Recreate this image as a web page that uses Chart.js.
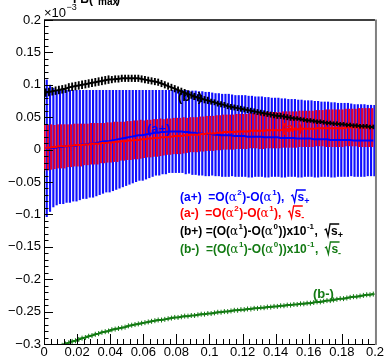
<!DOCTYPE html>
<html>
<head>
<meta charset="utf-8">
<script src="https://cdn.jsdelivr.net/npm/chart.js@4.4.1/dist/chart.umd.min.js"></script>
<style>
  html, body { margin: 0; padding: 0; background: #fff; }
  #c { display: block; }
</style>
</head>
<body>
<canvas id="c" width="385" height="358"></canvas>
<script>
// values in units of 1e-3, one per bin (100 bins from 0 to 0.2)
var aPlus = [
  0.002,0.002,0.003,0.003,0.004, 0.004,0.005,0.005,0.006,0.006,
  0.007,0.008,0.008,0.009,0.009, 0.010,0.011,0.012,0.013,0.013,
  0.014,0.015,0.016,0.017,0.018, 0.019,0.020,0.021,0.022,0.022,
  0.023,0.024,0.025,0.026,0.026, 0.027,0.027,0.028,0.028,0.028,
  0.028,0.028,0.027,0.027,0.026, 0.026,0.025,0.025,0.024,0.024,
  0.024,0.023,0.023,0.022,0.022, 0.022,0.022,0.021,0.021,0.021,
  0.021,0.020,0.020,0.020,0.020, 0.020,0.019,0.019,0.019,0.019,
  0.019,0.018,0.018,0.018,0.018, 0.018,0.017,0.017,0.017,0.017,
  0.017,0.016,0.016,0.016,0.016, 0.016,0.015,0.015,0.015,0.015,
  0.015,0.015,0.015,0.014,0.014, 0.014,0.014,0.014,0.014,0.014
];
var aPlusErr = [
  0.106,0.098,0.092,0.089,0.088, 0.088,0.087,0.087,0.086,0.086,
  0.085,0.084,0.084,0.083,0.083, 0.082,0.081,0.080,0.079,0.079,
  0.078,0.077,0.076,0.075,0.074, 0.073,0.072,0.071,0.070,0.070,
  0.069,0.068,0.067,0.066,0.066, 0.065,0.065,0.064,0.064,0.064,
  0.064,0.064,0.065,0.064,0.065, 0.065,0.065,0.065,0.065,0.065,
  0.064,0.064,0.064,0.064,0.064, 0.064,0.063,0.063,0.063,0.063,
  0.063,0.063,0.063,0.062,0.062, 0.062,0.062,0.062,0.061,0.061,
  0.061,0.061,0.061,0.060,0.060, 0.060,0.060,0.060,0.059,0.059,
  0.059,0.059,0.059,0.058,0.058, 0.058,0.058,0.058,0.057,0.057,
  0.057,0.057,0.056,0.056,0.056, 0.056,0.056,0.055,0.055,0.055
];
var aMinus = [
  0.003,0.003,0.004,0.004,0.005, 0.005,0.005,0.006,0.006,0.007,
  0.007,0.007,0.008,0.008,0.009, 0.009,0.009,0.010,0.010,0.011,
  0.011,0.012,0.012,0.013,0.013, 0.014,0.014,0.015,0.015,0.016,
  0.016,0.017,0.017,0.018,0.018, 0.019,0.019,0.020,0.020,0.021,
  0.021,0.021,0.022,0.022,0.023, 0.023,0.023,0.024,0.024,0.025,
  0.025,0.025,0.026,0.026,0.027, 0.027,0.027,0.027,0.028,0.028,
  0.028,0.028,0.029,0.029,0.029, 0.029,0.029,0.030,0.030,0.030,
  0.030,0.030,0.031,0.031,0.031, 0.031,0.031,0.032,0.032,0.032,
  0.032,0.032,0.033,0.033,0.033, 0.033,0.033,0.033,0.033,0.033,
  0.033,0.034,0.034,0.034,0.034, 0.034,0.034,0.034,0.034,0.034
];
var aMinusErr = [
  0.035,0.035,0.035,0.034,0.034, 0.034,0.034,0.033,0.033,0.033,
  0.033,0.033,0.032,0.032,0.032, 0.032,0.032,0.031,0.031,0.031,
  0.031,0.031,0.031,0.030,0.030, 0.030,0.030,0.030,0.030,0.030,
  0.029,0.029,0.029,0.029,0.029, 0.029,0.028,0.028,0.028,0.028,
  0.028,0.028,0.028,0.027,0.027, 0.027,0.027,0.027,0.027,0.027,
  0.027,0.027,0.027,0.027,0.027, 0.027,0.027,0.027,0.027,0.027,
  0.027,0.027,0.027,0.027,0.027, 0.028,0.028,0.028,0.028,0.028,
  0.028,0.028,0.028,0.028,0.028, 0.028,0.028,0.028,0.028,0.028,
  0.028,0.028,0.028,0.028,0.028, 0.029,0.029,0.029,0.029,0.029,
  0.029,0.029,0.029,0.029,0.029, 0.030,0.030,0.030,0.030,0.030
];
var bPlus = [
  0.088,0.089,0.090,0.091,0.092, 0.093,0.094,0.096,0.097,0.098,
  0.099,0.100,0.101,0.102,0.103, 0.104,0.105,0.106,0.107,0.108,
  0.108,0.109,0.109,0.110,0.110, 0.110,0.110,0.110,0.110,0.109,
  0.108,0.107,0.106,0.105,0.104, 0.102,0.100,0.098,0.096,0.094,
  0.092,0.090,0.088,0.086,0.084, 0.082,0.080,0.079,0.077,0.076,
  0.074,0.073,0.071,0.070,0.069, 0.067,0.066,0.065,0.064,0.063,
  0.062,0.061,0.060,0.059,0.058, 0.057,0.056,0.055,0.054,0.053,
  0.052,0.052,0.051,0.050,0.049, 0.048,0.048,0.047,0.046,0.045,
  0.045,0.044,0.043,0.043,0.042, 0.041,0.041,0.040,0.040,0.039,
  0.039,0.038,0.038,0.037,0.037, 0.036,0.036,0.036,0.035,0.035
];
var bPlusErr = [
  0.006,0.006,0.006,0.006,0.006, 0.006,0.006,0.006,0.006,0.006,
  0.006,0.006,0.006,0.006,0.006, 0.006,0.006,0.006,0.006,0.006,
  0.005,0.005,0.005,0.005,0.005, 0.005,0.005,0.005,0.005,0.005,
  0.005,0.005,0.005,0.005,0.005, 0.005,0.005,0.005,0.005,0.005,
  0.005,0.005,0.005,0.005,0.005, 0.005,0.005,0.005,0.005,0.005,
  0.004,0.004,0.004,0.004,0.004, 0.004,0.004,0.004,0.004,0.004,
  0.004,0.004,0.004,0.004,0.004, 0.004,0.004,0.004,0.004,0.004,
  0.004,0.004,0.004,0.004,0.004, 0.003,0.003,0.003,0.003,0.003,
  0.003,0.003,0.003,0.003,0.003, 0.003,0.003,0.003,0.003,0.003,
  0.003,0.003,0.003,0.003,0.003, 0.003,0.003,0.003,0.003,0.003
];
var bMinus = [
  -0.314,-0.311,-0.309,-0.306,-0.304, -0.302,-0.300,-0.298,-0.296,-0.295,
  -0.293,-0.291,-0.290,-0.288,-0.287, -0.285,-0.284,-0.282,-0.281,-0.280,
  -0.278,-0.277,-0.276,-0.275,-0.274, -0.272,-0.271,-0.270,-0.269,-0.268,
  -0.267,-0.266,-0.265,-0.264,-0.263, -0.263,-0.262,-0.261,-0.260,-0.259,
  -0.259,-0.258,-0.257,-0.257,-0.256, -0.256,-0.255,-0.254,-0.254,-0.253,
  -0.253,-0.252,-0.251,-0.251,-0.250, -0.250,-0.249,-0.248,-0.248,-0.247,
  -0.247,-0.246,-0.246,-0.245,-0.245, -0.244,-0.244,-0.243,-0.243,-0.242,
  -0.242,-0.241,-0.241,-0.240,-0.240, -0.239,-0.239,-0.238,-0.238,-0.237,
  -0.237,-0.236,-0.235,-0.235,-0.234, -0.233,-0.233,-0.232,-0.231,-0.230,
  -0.230,-0.229,-0.228,-0.227,-0.227, -0.226,-0.225,-0.224,-0.224,-0.223
];
var xTicks = [0, 0.02, 0.04, 0.06, 0.08, 0.1, 0.12, 0.14, 0.16, 0.18, 0.2];
var yTicks = [-0.3, -0.25, -0.2, -0.15, -0.1, -0.05, 0, 0.05, 0.1, 0.15, 0.2];

var binWidth = 0.002;
var xBins = aPlus.map(function(_, i) { return binWidth * (i + 0.5); });

function band(c, e) {
    return c.map(function(v, i) { return { x: xBins[i], y: [v - e[i], v + e[i]] }; });
}
function pts(c) {
    return c.map(function(v, i) { return { x: xBins[i], y: v }; });
}

var F = '"Liberation Sans", Arial, sans-serif';
var BLUE = '#0000ff', RED = '#ff0000', GREEN = '#137a13';

// draw a row of text pieces: [text, kind]; n = normal, a = greek, s = superscript, r = sqrt(s) with sub sign
function richRow(ctx, x, y, color, parts) {
    ctx.fillStyle = color;
    ctx.strokeStyle = color;
    ctx.textBaseline = 'alphabetic';
    ctx.textAlign = 'left';
    parts.forEach(function(p) {
        var t = p[0], k = p[1];
        if (k === 'n') {
            ctx.font = 'bold 12px ' + F;
            ctx.fillText(t, x, y); x += ctx.measureText(t).width;
        } else if (k === 'a') {
            ctx.font = '12px "DejaVu Serif", serif';
            ctx.fillText(t, x, y); x += ctx.measureText(t).width;
        } else if (k === 's') {
            ctx.font = 'bold 8px ' + F;
            ctx.fillText(t, x + 0.5, y - 6); x += ctx.measureText(t).width + 1;
        } else if (k === 'r') {
            ctx.font = 'bold 12px ' + F;
            var w = ctx.measureText('s').width;
            ctx.lineWidth = 1.3;
            ctx.beginPath();
            ctx.moveTo(x, y - 5);
            ctx.lineTo(x + 1.5, y - 6);
            ctx.lineTo(x + 3.5, y + 1);
            ctx.lineTo(x + 5.5, y - 11);
            ctx.lineTo(x + 7 + w + 1, y - 11);
            ctx.stroke();
            ctx.fillText('s', x + 6.5, y); x += 6.5 + w;
            ctx.font = 'bold 9px ' + F;
            ctx.fillText(t, x, y + 3);
        }
    });
}

var rootFrame = {
    id: 'rootFrame',
    afterDraw: function(chart) {
        var ctx = chart.ctx, a = chart.chartArea, xs = chart.scales.x, ys = chart.scales.y;
        ctx.save();
        ctx.strokeStyle = '#000';
        ctx.lineWidth = 1;
        // inward y ticks, minor every 0.01
        for (var k = -30; k <= 20; k++) {
            var py = Math.round(ys.getPixelForValue(k / 100)) + 0.5;
            var len = (k % 5 === 0) ? 9 : 4.5;
            ctx.beginPath(); ctx.moveTo(a.left, py); ctx.lineTo(a.left + len, py); ctx.stroke();
        }
        // inward x ticks, minor every 0.004
        for (var j = 0; j <= 50; j++) {
            var px = Math.round(xs.getPixelForValue(j * 0.004)) + 0.5;
            var l2 = (j % 5 === 0) ? 10 : 5;
            ctx.beginPath(); ctx.moveTo(px, a.bottom); ctx.lineTo(px, a.bottom - l2); ctx.stroke();
        }
        // top and right frame
        ctx.lineWidth = 1.5;
        ctx.beginPath(); ctx.moveTo(a.left, a.top); ctx.lineTo(a.right, a.top); ctx.stroke();
        ctx.strokeStyle = '#808080';
        ctx.lineWidth = 2;
        ctx.beginPath(); ctx.moveTo(a.right + 1, a.top - 0.5); ctx.lineTo(a.right + 1, a.bottom + 1); ctx.stroke();

        // exponent
        ctx.fillStyle = '#000';
        ctx.textAlign = 'left';
        ctx.textBaseline = 'alphabetic';
        ctx.font = '13px ' + F;
        ctx.fillText('\u00d710', a.left, 17);
        var ew = ctx.measureText('\u00d710').width;
        ctx.font = '9px ' + F;
        ctx.fillText('\u22123', a.left + ew + 0.5, 10);

        // clipped title
        ctx.font = 'bold 13px ' + F;
        ctx.fillText('A', 60, -1);
        ctx.font = 'bold 12px ' + F;
        ctx.fillText('FB(', 73, 3);
        ctx.font = 'bold 10px ' + F;
        ctx.fillText('max', 98, 5);
        ctx.font = 'bold 12px ' + F;
        ctx.fillText(')', 116, 3);

        // curve labels
        ctx.font = 'bold 13px ' + F;
        ctx.fillStyle = '#000'; ctx.fillText('(b+)', 178, 101);
        ctx.fillStyle = BLUE; ctx.fillText('(a+)', 147, 133);
        ctx.fillStyle = RED; ctx.fillText('(a-)', 282, 132);
        ctx.fillStyle = GREEN; ctx.fillText('(b-)', 313, 298);

        // legend text
        richRow(ctx, 180, 201, BLUE, [['(a+)  =O(', 'n'], ['\u03b1', 'a'], ['2', 's'], [')-O(', 'n'], ['\u03b1', 'a'], ['1', 's'], ['),  ', 'n'], ['+', 'r']]);
        richRow(ctx, 180, 217, RED, [['(a-)  =O(', 'n'], ['\u03b1', 'a'], ['2', 's'], [')-O(', 'n'], ['\u03b1', 'a'], ['1', 's'], ['),  ', 'n'], ['-', 'r']]);
        richRow(ctx, 180, 235, '#000', [['(b+) =(O(', 'n'], ['\u03b1', 'a'], ['1', 's'], [')-O(', 'n'], ['\u03b1', 'a'], ['0', 's'], ['))x10', 'n'], ['-1', 's'], [',  ', 'n'], ['+', 'r']]);
        richRow(ctx, 180, 253, GREEN, [['(b-)  =(O(', 'n'], ['\u03b1', 'a'], ['1', 's'], [')-O(', 'n'], ['\u03b1', 'a'], ['0', 's'], ['))x10', 'n'], ['-1', 's'], [',  ', 'n'], ['-', 'r']]);
        ctx.restore();
    }
};

function fmt(v) {
    var s = String(Number(v.toFixed(3)));
    return s.replace('-', '\u2212');
}

var ctx = document.getElementById('c').getContext('2d');
var chart = new Chart(ctx, {
    type: 'bar',
    data: {
        datasets: [
            { type: 'bar', data: band(aPlus, aPlusErr), backgroundColor: '#1010ff',
              barPercentage: 1, categoryPercentage: 1.3, borderWidth: 0, order: 10 },
            { type: 'bar', data: band(aMinus, aMinusErr), backgroundColor: '#e8002a',
              barPercentage: 1, categoryPercentage: 1.3, borderWidth: 0, order: 9 },
            { type: 'line', data: pts(aPlus), borderColor: BLUE, borderWidth: 2, pointRadius: 0, order: 8 },
            { type: 'line', data: pts(aMinus), borderColor: RED, borderWidth: 2, pointRadius: 0, order: 7 },
            { type: 'bar', data: band(bPlus, bPlusErr), backgroundColor: '#000', grouped: false,
              barThickness: 1.2, borderWidth: 0, order: 6 },
            { type: 'line', data: pts(bPlus), borderColor: '#000', borderWidth: 2, pointRadius: 0, order: 5 },
            { type: 'line', data: pts(bMinus), borderColor: GREEN, borderWidth: 2, pointStyle: 'cross',
              pointRadius: 2.5, pointBorderWidth: 1, pointBorderColor: GREEN, order: 1 }
        ]
    },
    options: {
        responsive: false,
        animation: false,
        devicePixelRatio: 1,
        layout: { padding: { top: 20, right: 10, left: 0, bottom: 0 } },
        plugins: { legend: { display: false }, tooltip: { enabled: false } },
        scales: {
            x: {
                type: 'linear', min: 0, max: 0.2, offset: false,
                grid: { display: false, drawTicks: false },
                border: { display: true, color: '#000', width: 1 },
                afterBuildTicks: function(s) { s.ticks = xTicks.map(function(v) { return { value: v }; }); },
                afterFit: function(s) { s.height = 14; },
                ticks: { autoSkip: false, maxRotation: 0, padding: 1, color: '#000',
                         font: { family: F, size: 13 }, callback: fmt }
            },
            y: {
                type: 'linear', min: -0.3, max: 0.2,
                grid: { display: false, drawTicks: false },
                border: { display: true, color: '#000', width: 1 },
                afterBuildTicks: function(s) { s.ticks = yTicks.map(function(v) { return { value: v }; }); },
                afterFit: function(s) { s.width = 44; },
                ticks: { padding: 3, color: '#000', font: { family: F, size: 13 }, callback: fmt }
            }
        }
    },
    plugins: [rootFrame]
});
</script>
</body>
</html>
